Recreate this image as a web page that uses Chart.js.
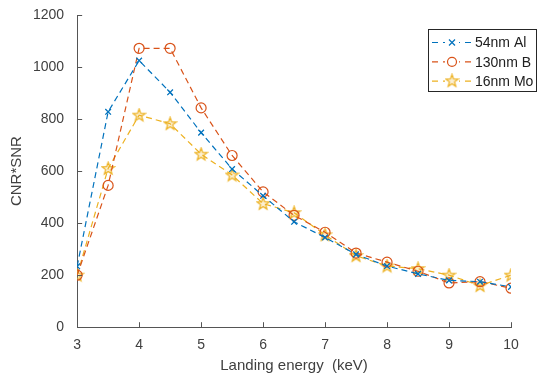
<!DOCTYPE html>
<html>
<head>
<meta charset="utf-8">
<script src="https://cdn.jsdelivr.net/npm/chart.js@4.4.0/dist/chart.umd.min.js"></script>
<style>
    html, body { margin: 0; padding: 0; background: white; }
    #wrap { width: 541px; height: 375px; }
</style>
</head>
<body>
<div id="wrap"><canvas id="cnr"></canvas></div>
<script>
const energies = [3, 3.5, 4, 4.5, 5, 5.5, 6, 6.5, 7, 7.5, 8, 8.5, 9, 9.5, 10];
const al54 = [234, 828, 1025, 903, 748, 608, 505, 405, 345, 280, 235, 205, 180, 175, 155];
const b130 = [200, 545, 1072, 1072, 843, 660, 520, 430, 365, 285, 250, 215, 170, 175, 150];
const mo16 = [200, 610, 815, 782, 665, 585, 475, 440, 355, 275, 235, 225, 200, 160, 200];
const seriesNames = ["54nm Al", "130nm B", "16nm Mo"];
const xTicks = [3, 4, 5, 6, 7, 8, 9, 10];
const yTicks = [0, 200, 400, 600, 800, 1000, 1200];

const blue = "#0072BD", orange = "#D95319", yellow = "#EDB120";
const axisGrey = "#555555", textGrey = "#404040";
const fontFam = "'Liberation Sans', Arial, sans-serif";

// 5-point star marker like matlab 'p'
function starMarker(color) {
    let c = document.createElement("canvas");
    c.width = 15; c.height = 15;
    let ctx = c.getContext("2d");
    ctx.beginPath();
    for (let i = 0; i < 10; i++) {
        let r = (i % 2 === 0) ? 6.5 : 2.7;
        let a = -Math.PI / 2 + i * Math.PI / 5;
        let px = 7.5 + r * Math.cos(a), py = 7.8 + r * Math.sin(a);
        if (i === 0) ctx.moveTo(px, py); else ctx.lineTo(px, py);
    }
    ctx.closePath();
    ctx.fillStyle = "rgba(237,177,32,0.2)";
    ctx.fill();
    ctx.strokeStyle = color;
    ctx.lineWidth = 1.2;
    ctx.stroke();
    return c;
}
const star = starMarker(yellow);

function toPoints(ys) {
    return energies.map((x, i) => ({x: x, y: ys[i]}));
}

// inward ticks and boxed legend, matlab style
const matlabBits = {
    id: "matlabBits",
    afterDraw(chart) {
        const ctx = chart.ctx, xs = chart.scales.x, ys = chart.scales.y;
        const area = chart.chartArea;
        ctx.save();
        ctx.strokeStyle = axisGrey;
        ctx.lineWidth = 1;
        xTicks.forEach(t => {
            let px = Math.round(xs.getPixelForValue(t)) + 0.5;
            ctx.beginPath(); ctx.moveTo(px, area.bottom); ctx.lineTo(px, area.bottom - 5); ctx.stroke();
        });
        yTicks.forEach(t => {
            let py = Math.round(ys.getPixelForValue(t)) + 0.5;
            ctx.beginPath(); ctx.moveTo(area.left, py); ctx.lineTo(area.left + 5, py); ctx.stroke();
        });

        // legend
        let bx = 428.5, by = 29.5, bw = 108, bh = 62;
        ctx.fillStyle = "white";
        ctx.fillRect(bx, by, bw, bh);
        ctx.strokeStyle = "#262626";
        ctx.lineWidth = 1;
        ctx.strokeRect(bx, by, bw, bh);
        ctx.font = "14px " + fontFam;
        ctx.textBaseline = "middle";
        chart.data.datasets.forEach((ds, i) => {
            let ly = 42.5 + i * 19.3;
            ctx.strokeStyle = ds.borderColor;
            ctx.lineWidth = 1.2;
            ctx.setLineDash([6, 5]);
            ctx.beginPath(); ctx.moveTo(432, ly); ctx.lineTo(472, ly); ctx.stroke();
            ctx.setLineDash([]);
            ctx.fillStyle = "white";
            ctx.fillRect(445, ly - 6, 14, 12);
            if (i === 0) {
                ctx.beginPath();
                ctx.moveTo(449, ly - 3); ctx.lineTo(455, ly + 3);
                ctx.moveTo(455, ly - 3); ctx.lineTo(449, ly + 3);
                ctx.stroke();
            } else if (i === 1) {
                ctx.beginPath(); ctx.arc(452, ly, 4.5, 0, Math.PI * 2); ctx.stroke();
            } else {
                ctx.drawImage(star, 444.5, ly - 7.8);
            }
            ctx.fillStyle = "#202020";
            ctx.fillText(seriesNames[i], 475, ly + 1);
        });
        ctx.restore();
    }
};

new Chart("cnr", {
    type: "line",
    data: {
        datasets: [{
            label: seriesNames[0],
            data: toPoints(al54),
            borderColor: blue,
            backgroundColor: blue,
            borderWidth: 1.2,
            borderDash: [6, 4],
            pointStyle: "crossRot",
            pointRadius: 4,
            pointBorderWidth: 1.3
        }, {
            label: seriesNames[1],
            data: toPoints(b130),
            borderColor: orange,
            backgroundColor: "rgba(0,0,0,0)",
            borderWidth: 1.2,
            borderDash: [6, 4],
            pointStyle: "circle",
            pointRadius: 5,
            pointBorderWidth: 1.2
        }, {
            label: seriesNames[2],
            data: toPoints(mo16),
            borderColor: yellow,
            backgroundColor: yellow,
            borderWidth: 1.2,
            borderDash: [6, 4],
            pointStyle: star,
            pointRadius: 6
        }]
    },
    options: {
        responsive: true,
        maintainAspectRatio: false,
        animation: false,
        layout: {
            padding: {left: 8, right: 30, top: 15, bottom: 0}
        },
        plugins: {
            legend: {
                display: false
            },
            tooltip: {
                enabled: false
            }
        },
        scales: {
            x: {
                type: "linear",
                min: 3,
                max: 10,
                afterBuildTicks: (axis) => { axis.ticks = xTicks.map(v => ({value: v})); },
                grid: {
                    display: false
                },
                border: {
                    color: axisGrey
                },
                ticks: {
                    color: textGrey,
                    padding: 2,
                    callback: (v) => String(v),
                    font: {
                        family: fontFam,
                        size: 14
                    }
                },
                title: {
                    display: true,
                    text: "Landing energy  (keV)",
                    color: textGrey,
                    padding: {top: 1, bottom: 0},
                    font: {
                        family: fontFam,
                        size: 15
                    }
                }
            },
            y: {
                min: 0,
                max: 1200,
                afterBuildTicks: (axis) => { axis.ticks = yTicks.map(v => ({value: v})); },
                grid: {
                    display: false
                },
                border: {
                    color: axisGrey
                },
                ticks: {
                    color: textGrey,
                    padding: 5,
                    callback: (v) => String(v),
                    font: {
                        family: fontFam,
                        size: 14
                    }
                },
                title: {
                    display: true,
                    text: "CNR*SNR",
                    color: textGrey,
                    padding: {top: 0, bottom: 2},
                    font: {
                        family: fontFam,
                        size: 15
                    }
                }
            }
        }
    },
    plugins: [matlabBits]
});
</script>
</body>
</html>
